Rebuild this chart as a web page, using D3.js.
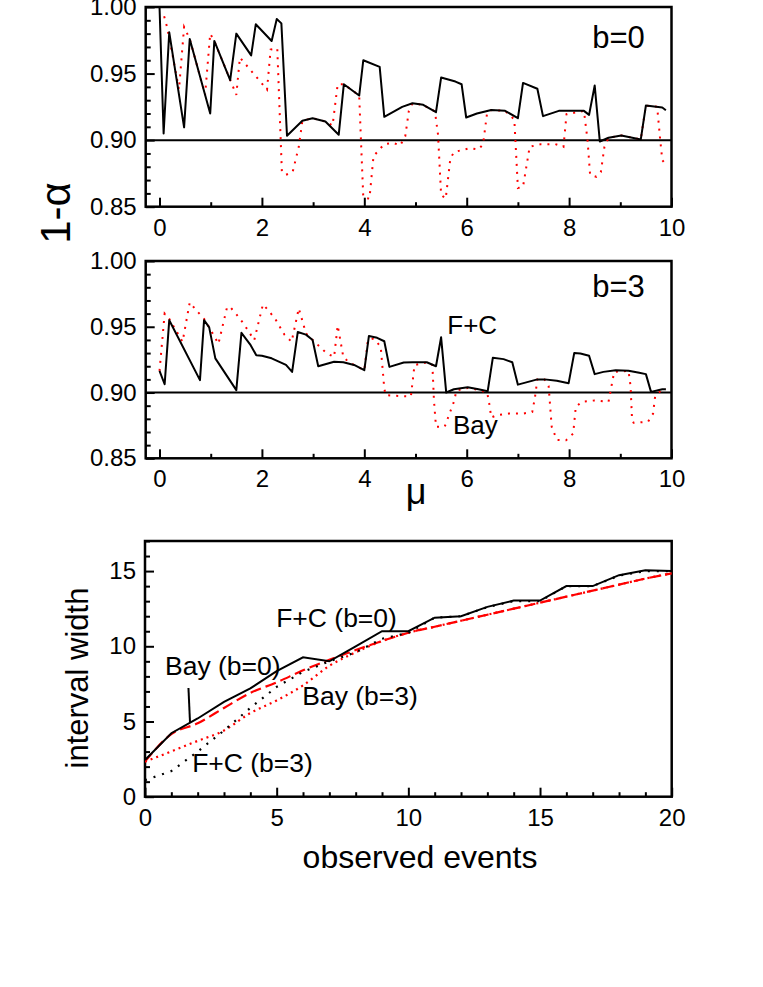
<!DOCTYPE html>
<html>
<head>
<meta charset="utf-8">
<script src="https://cdn.jsdelivr.net/npm/d3@7/dist/d3.min.js"></script>
<style>
  body { margin: 0; background: #fff; }
  svg { font-family: "Liberation Sans", Arial, sans-serif; }
  .tick text { font-size: 24px; fill: #000; }
</style>
</head>
<body>
<svg id="chart" width="763" height="987"></svg>
<script>
// coverage 1-alpha vs mu, b=0 : [mu, value]
var fcB0 = [[0,1.0],[0.08,0.905],[0.19,0.981],[0.48,0.9096],[0.59,0.976],[0.99,0.92],[1.07,0.9745],
  [1.38,0.945],[1.5,0.98],[1.79,0.9637],[1.88,0.987],[2.19,0.9745],[2.29,0.991],[2.38,0.9877],
  [2.49,0.9033],[2.79,0.9145],[2.99,0.9165],[3.24,0.914],[3.5,0.904],[3.6,0.942],[3.9,0.9335],
  [3.98,0.960],[4.3,0.955],[4.39,0.9175],[4.74,0.925],[4.94,0.9277],[5.15,0.9265],[5.4,0.921],
  [5.5,0.947],[5.78,0.944],[5.9,0.942],[5.99,0.917],[6.2,0.920],[6.48,0.9226],[6.75,0.922],
  [7.0,0.9165],[7.1,0.943],[7.38,0.9386],[7.49,0.918],[7.8,0.922],[8.29,0.922],[8.39,0.919],
  [8.5,0.941],[8.6,0.899],[8.77,0.9018],[9.02,0.9035],[9.4,0.9005],[9.5,0.926],[9.82,0.9245],[9.89,0.9225]];
var bayB0 = [[0.09,0.993],[0.14,0.986],[0.2,0.975],[0.38,0.938],[0.48,0.985],[0.59,0.976],[0.89,0.934],
  [0.99,0.980],[1.07,0.9745],[1.5,0.934],[1.57,0.962],[2.1,0.938],[2.17,0.968],[2.3,0.969],
  [2.39,0.876],[2.47,0.874],[2.6,0.876],[2.72,0.895],[2.79,0.9145],[2.99,0.9165],[3.24,0.914],
  [3.38,0.911],[3.48,0.942],[3.6,0.942],[3.9,0.9335],[3.93,0.904],[3.98,0.857],[4.1,0.856],
  [4.18,0.888],[4.39,0.897],[4.56,0.898],[4.7,0.896],[4.8,0.903],[4.87,0.922],[4.94,0.9277],
  [5.15,0.9265],[5.38,0.9215],[5.44,0.904],[5.5,0.859],[5.59,0.856],[5.68,0.886],[5.75,0.891],
  [6.06,0.894],[6.23,0.893],[6.32,0.897],[6.4,0.921],[6.48,0.9226],[6.75,0.922],[6.93,0.9155],
  [7.0,0.864],[7.1,0.865],[7.23,0.895],[7.45,0.897],[7.73,0.897],[7.89,0.895],[7.95,0.9195],
  [8.29,0.922],[8.36,0.90],[8.41,0.874],[8.53,0.8725],[8.62,0.876],[8.69,0.895],[8.77,0.9018],
  [9.02,0.9035],[9.4,0.9005],[9.5,0.926],[9.72,0.925],[9.78,0.90],[9.82,0.885],[9.89,0.8815]];

// b=3
var fcB3 = [[0,0.9165],[0.1,0.9063],[0.19,0.955],[0.79,0.9094],[0.87,0.955],[0.97,0.9495],[1.09,0.926],
  [1.5,0.9018],[1.6,0.9454],[1.78,0.936],[1.89,0.9284],[2.0,0.928],[2.19,0.926],[2.47,0.921],
  [2.59,0.9157],[2.7,0.946],[2.86,0.944],[2.99,0.940],[3.1,0.920],[3.41,0.9234],[3.59,0.923],
  [3.8,0.921],[4.0,0.917],[4.09,0.943],[4.25,0.9416],[4.39,0.939],[4.49,0.9195],[4.77,0.9228],
  [4.94,0.923],[5.22,0.923],[5.4,0.920],[5.5,0.942],[5.6,0.900],[5.75,0.9025],[6.02,0.904],
  [6.23,0.9025],[6.41,0.901],[6.51,0.9264],[6.72,0.9254],[6.89,0.923],[7.0,0.906],[7.38,0.910],
  [7.52,0.910],[7.76,0.909],[7.99,0.907],[8.1,0.930],[8.22,0.9297],[8.39,0.928],[8.5,0.914],
  [8.67,0.9157],[8.91,0.917],[9.16,0.9165],[9.37,0.915],[9.5,0.914],[9.6,0.9005],[9.82,0.9025],[9.89,0.9025]];
var bayB3 = [[0,0.9165],[0.1,0.960],[0.19,0.956],[0.45,0.9386],[0.59,0.9685],[0.73,0.962],[0.87,0.956],
  [0.97,0.9495],[1.08,0.942],[1.15,0.937],[1.32,0.965],[1.38,0.965],[1.51,0.959],[1.64,0.9525],
  [1.85,0.9398],[2.02,0.967],[2.12,0.9627],[2.26,0.956],[2.44,0.944],[2.58,0.9386],[2.72,0.964],
  [2.86,0.945],[2.99,0.940],[3.26,0.930],[3.41,0.927],[3.48,0.951],[3.59,0.927],[3.7,0.923],
  [4.0,0.917],[4.07,0.940],[4.18,0.941],[4.32,0.935],[4.39,0.903],[4.42,0.898],[4.6,0.8975],
  [4.91,0.897],[4.98,0.9208],[5.22,0.923],[5.33,0.921],[5.36,0.894],[5.4,0.874],[5.57,0.874],
  [5.75,0.893],[5.8,0.9015],[6.02,0.9035],[6.23,0.902],[6.4,0.90],[6.44,0.8916],[6.48,0.881],
  [6.58,0.8827],[6.82,0.884],[7.1,0.884],[7.28,0.8853],[7.33,0.8955],[7.38,0.910],[7.52,0.910],
  [7.6,0.905],[7.66,0.874],[7.76,0.864],[7.94,0.8637],[8.08,0.8688],[8.13,0.889],[8.25,0.893],
  [8.5,0.894],[8.77,0.893],[8.88,0.9157],[9.16,0.9165],[9.2,0.905],[9.23,0.879],[9.26,0.877],
  [9.54,0.8777],[9.64,0.884],[9.68,0.897],[9.82,0.9025],[9.89,0.9025]];

var nominal = 0.90;
var muTicks = [0, 2, 4, 6, 8, 10];
var coverTicks = [0.85, 0.90, 0.95, 1.00];

// interval width vs observed events
var events = d3.range(0, 21);
var widthFC0 = [2.44,4.22,5.2,6.3,7.2,8.35,9.27,9.0,10.0,11.0,11.0,11.9,12.0,12.62,13.04,13.04,14.0,14.0,14.73,15.05,15.0];
var widthFC3 = [1.1,1.7,3.0,4.4,5.9,7.3,8.3,9.0,9.6,10.5,10.9,11.9,12.0,12.6,13.0,13.0,14.0,14.0,14.7,15.0,15.0];
var widthBay0 = [2.33,4.16,4.88,5.9,6.9,7.6,8.4,9.1,9.75,10.35,10.9,11.3,11.7,12.1,12.5,12.9,13.3,13.7,14.1,14.5,14.85];
var widthBay3 = [2.33,3.01,3.71,4.4,5.56,6.4,7.4,8.7,9.6,10.35,10.9,11.3,11.7,12.1,12.5,12.9,13.3,13.7,14.1,14.5,14.85];
var eventTicks = [0, 5, 10, 15, 20];
var widthTicks = [0, 5, 10, 15];

var svg = d3.select('#chart');
var RED = '#ff0000';

function framePanel(g, x, y, clipId) {
    var r = x.range(), t = y.range();
    g.append('clipPath').attr('id', clipId)
        .append('rect').attr('x', r[0]).attr('y', t[1]).attr('width', r[1] - r[0]).attr('height', t[0] - t[1]);
}

function drawAxes(g, x, y, xMajor, xMinor, yMajor, yMinor, xFmt, yFmt) {
    var r = x.range(), t = y.range();
    g.append('g').attr('transform', 'translate(0,' + t[0] + ')')
        .call(d3.axisBottom(x).tickValues(xMinor).tickSize(-4.5).tickFormat(''))
        .call(function(a) { a.select('.domain').remove(); });
    g.append('g').attr('transform', 'translate(0,' + t[0] + ')')
        .call(d3.axisBottom(x).tickValues(xMajor).tickSize(-9).tickPadding(12).tickFormat(xFmt))
        .call(function(a) { a.select('.domain').remove(); });
    g.append('g').attr('transform', 'translate(' + r[0] + ',0)')
        .call(d3.axisLeft(y).tickValues(yMinor).tickSize(-5).tickFormat(''))
        .call(function(a) { a.select('.domain').remove(); });
    g.append('g').attr('transform', 'translate(' + r[0] + ',0)')
        .call(d3.axisLeft(y).tickValues(yMajor).tickSize(-9).tickPadding(9).tickFormat(yFmt))
        .call(function(a) { a.select('.domain').remove(); });
    g.selectAll('.tick line').attr('stroke', '#000').attr('stroke-width', 2);
    g.append('rect').attr('x', r[0]).attr('y', t[1]).attr('width', r[1] - r[0]).attr('height', t[0] - t[1])
        .attr('fill', 'none').attr('stroke', '#000').attr('stroke-width', 2.5);
}

function coveragePanel(top, bottom, fc, bay, label, clipId) {
    var x = d3.scaleLinear().domain([-0.27, 10]).range([145.7, 671.5]);
    var y = d3.scaleLinear().domain([0.85, 1.00]).range([bottom, top]);
    var g = svg.append('g');
    framePanel(g, x, y, clipId);
    var minorMu = d3.range(0, 11).filter(function(d) { return d % 2 === 1; });
    var minorCov = d3.range(0.85, 1.0001, 0.01).filter(function(d) { return Math.abs(Math.round(d * 100) % 5) !== 0; });
    drawAxes(g, x, y, muTicks, minorMu, coverTicks, minorCov, d3.format('d'), d3.format('.2f'));

    var line = d3.line().x(function(d) { return x(d[0]); }).y(function(d) { return y(d[1]); });
    var plot = g.append('g').attr('clip-path', 'url(#' + clipId + ')');
    plot.append('line').attr('x1', x.range()[0]).attr('x2', x.range()[1])
        .attr('y1', y(nominal)).attr('y2', y(nominal)).attr('stroke', '#000').attr('stroke-width', 2);
    plot.append('path').datum(bay).attr('d', line).attr('fill', 'none')
        .attr('stroke', RED).attr('stroke-width', 2).attr('stroke-dasharray', '2,6');
    plot.append('path').datum(fc).attr('d', line).attr('fill', 'none')
        .attr('stroke', '#000').attr('stroke-width', 2).attr('stroke-linejoin', 'round');
    g.append('text').attr('x', x(8.45)).attr('y', y(label.v)).attr('font-size', 31).text(label.t);
    return { g: g, x: x, y: y };
}

var p1 = coveragePanel(7, 206.7, fcB0, bayB0, { t: 'b=0', v: 0.9694 }, 'clipTop');
var p2 = coveragePanel(261, 458.3, fcB3, bayB3, { t: 'b=3', v: 0.9729 }, 'clipMid');

p2.g.append('text').attr('x', p2.x(5.62)).attr('y', p2.y(0.9445)).attr('font-size', 26).text('F+C');
p2.g.append('text').attr('x', p2.x(5.73)).attr('y', p2.y(0.8683)).attr('font-size', 26).text('Bay');

svg.append('text').attr('x', 416).attr('y', 504).attr('text-anchor', 'middle')
    .attr('font-size', 36).text('μ');
svg.append('text').attr('transform', 'translate(70,213) rotate(-90)').attr('text-anchor', 'middle')
    .attr('font-size', 42).text('1-α');

// bottom panel
(function() {
    var x = d3.scaleLinear().domain([0, 20]).range([145, 671.7]);
    var y = d3.scaleLinear().domain([0, 17]).range([796.7, 541]);
    var g = svg.append('g');
    framePanel(g, x, y, 'clipBot');
    var minorEv = events.filter(function(d) { return d % 5 !== 0; });
    var minorW = d3.range(0, 18).filter(function(d) { return d % 5 !== 0; });
    drawAxes(g, x, y, eventTicks, minorEv, widthTicks, minorW, d3.format('d'), d3.format('d'));

    var plot = g.append('g').attr('clip-path', 'url(#clipBot)');
    function series(vals, curve) {
        return d3.line().curve(curve).x(function(d, i) { return x(events[i]); }).y(function(d) { return y(d); })(vals);
    }
    plot.append('path').attr('d', series(widthBay3, d3.curveMonotoneX)).attr('fill', 'none')
        .attr('stroke', RED).attr('stroke-width', 2.2).attr('stroke-dasharray', '2,4');
    plot.append('path').attr('d', series(widthBay0, d3.curveMonotoneX)).attr('fill', 'none')
        .attr('stroke', RED).attr('stroke-width', 2.2).attr('stroke-dasharray', '11,5');
    plot.append('path').attr('d', series(widthFC3, d3.curveLinear)).attr('fill', 'none')
        .attr('stroke', '#000').attr('stroke-width', 2.2).attr('stroke-dasharray', '2,7');
    plot.append('path').attr('d', series(widthFC0, d3.curveLinear)).attr('fill', 'none')
        .attr('stroke', '#000').attr('stroke-width', 2);

    var notes = [
        { t: 'F+C (b=0)', x: 4.98, y: 11.31 },
        { t: 'Bay (b=0)', x: 0.76, y: 8.11 },
        { t: 'Bay (b=3)', x: 5.97, y: 6.11 },
        { t: 'F+C (b=3)', x: 1.79, y: 1.67 }
    ];
    g.selectAll('text.note').data(notes).enter().append('text').attr('class', 'note')
        .attr('x', function(d) { return x(d.x); }).attr('y', function(d) { return y(d.y); })
        .attr('font-size', 26.5).text(function(d) { return d.t; });
    g.append('line').attr('x1', x(1.65)).attr('y1', y(7.23)).attr('x2', x(1.71)).attr('y2', y(4.9))
        .attr('stroke', '#000').attr('stroke-width', 2);

    svg.append('text').attr('transform', 'translate(88,678) rotate(-90)').attr('text-anchor', 'middle')
        .attr('font-size', 31).text('interval width');
    svg.append('text').attr('x', 420).attr('y', 868).attr('text-anchor', 'middle')
        .attr('font-size', 32).text('observed events');
})();
</script>
</body>
</html>
